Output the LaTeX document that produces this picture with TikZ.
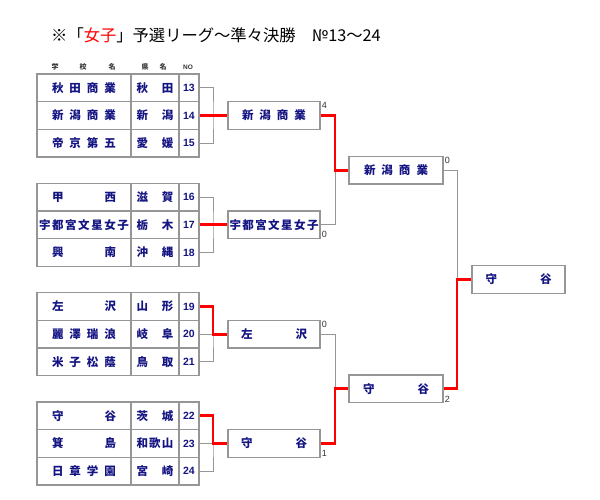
\documentclass[tikz,border=0pt]{standalone}
\usepackage{fontspec}
\setmainfont{Liberation Sans}
\newfontfamily\jp{Noto Sans CJK JP}
\definecolor{navy}{RGB}{20,20,130}
\definecolor{gridgray}{RGB}{150,150,150}
\definecolor{winred}{RGB}{255,0,0}
\newcommand\spr[1]{\makebox[64pt][s]{#1}}
\newcommand\spp[1]{\makebox[37pt][s]{#1}}
\tikzset{
  cellbase/.style={draw=gridgray, line width=1.2pt, minimum height=27.67pt, inner sep=0pt, text=navy},
  school/.style={cellbase, minimum width=94pt, font=\jp\bfseries\fontsize{11.5}{11.5}\selectfont},
  pref/.style={cellbase, minimum width=48pt, font=\jp\bfseries\fontsize{11.5}{11.5}\selectfont},
  num/.style={cellbase, minimum width=20pt, font=\bfseries\fontsize{10.5}{10.5}\selectfont},
  winbox/.style={cellbase, minimum width=92pt, minimum height=27.67pt, font=\jp\bfseries\fontsize{11.5}{11.5}\selectfont},
  head/.style={font=\jp\bfseries\fontsize{7}{7}\selectfont, text=black!80, inner sep=0pt},
  score/.style={font=\fontsize{9}{9}\selectfont, text=black!80, inner sep=1pt},
  gl/.style={draw=gridgray, line width=1pt},
  rl/.style={draw=winred, line width=2.8pt},
}
\begin{document}
\begin{tikzpicture}[x=1pt,y=-1pt]
\useasboundingbox (0,0) rectangle (600,500);
% title
\node[anchor=west, inner sep=0pt, font=\jp\fontsize{16.3}{16.3}\selectfont] (title) at (51,35) {※「\textcolor{winred}{女子}」予選リーグ～準々決勝　№13～24};
% headers
\node[head] (h1) at (55,67) {学};
\node[head] (h2) at (83,67) {校};
\node[head] (h3) at (112,67) {名};
\node[head] (h4) at (145,67) {県};
\node[head] (h5) at (163,67) {名};
\node[head, font=\bfseries\fontsize{6.5}{6.5}\selectfont] (h6) at (188,67) {NO};
% group 1
\node[school] (s11) at (84,87.8) {\spr{秋\hfill 田\hfill 商\hfill 業}};
\node[pref] (p11) at (155,87.8) {\spp{秋\hfill 田}};
\node[num] (n11) at (189,87.8) {13};
\node[school] (s12) at (84,115.5) {\spr{新\hfill 潟\hfill 商\hfill 業}};
\node[pref] (p12) at (155,115.5) {\spp{新\hfill 潟}};
\node[num] (n12) at (189,115.5) {14};
\node[school] (s13) at (84,143.2) {\spr{帝\hfill 京\hfill 第\hfill 五}};
\node[pref] (p13) at (155,143.2) {\spp{愛\hfill 媛}};
\node[num] (n13) at (189,143.2) {15};
% group 2
\node[school] (s21) at (84,197.2) {\spr{甲\hfill 西}};
\node[pref] (p21) at (155,197.2) {\spp{滋\hfill 賀}};
\node[num] (n21) at (189,197.2) {16};
\node[school] (s22) at (84,224.8) {\makebox[90pt][s]{宇\hfill 都\hfill 宮\hfill 文\hfill 星\hfill 女\hfill 子}};
\node[pref] (p22) at (155,224.8) {\spp{栃\hfill 木}};
\node[num] (n22) at (189,224.8) {17};
\node[school] (s23) at (84,252.5) {\spr{興\hfill 南}};
\node[pref] (p23) at (155,252.5) {\spp{沖\hfill 縄}};
\node[num] (n23) at (189,252.5) {18};
% group 3
\node[school] (s31) at (84,306.5) {\spr{左\hfill 沢}};
\node[pref] (p31) at (155,306.5) {\spp{山\hfill 形}};
\node[num] (n31) at (189,306.5) {19};
\node[school] (s32) at (84,334.2) {\spr{麗\hfill 澤\hfill 瑞\hfill 浪}};
\node[pref] (p32) at (155,334.2) {\spp{岐\hfill 阜}};
\node[num] (n32) at (189,334.2) {20};
\node[school] (s33) at (84,361.8) {\spr{米\hfill 子\hfill 松\hfill 蔭}};
\node[pref] (p33) at (155,361.8) {\spp{鳥\hfill 取}};
\node[num] (n33) at (189,361.8) {21};
% group 4
\node[school] (s41) at (84,415.8) {\spr{守\hfill 谷}};
\node[pref] (p41) at (155,415.8) {\spp{茨\hfill 城}};
\node[num] (n41) at (189,415.8) {22};
\node[school] (s42) at (84,443.5) {\spr{箕\hfill 島}};
\node[pref] (p42) at (155,443.5) {\spp{和\hfill 歌\hfill 山}};
\node[num] (n42) at (189,443.5) {23};
\node[school] (s43) at (84,471.2) {\spr{日\hfill 章\hfill 学\hfill 園}};
\node[pref] (p43) at (155,471.2) {\spp{宮\hfill 崎}};
\node[num] (n43) at (189,471.2) {24};
% round 1 winners
\node[winbox] (r1) at (274,115.5) {\spr{新\hfill 潟\hfill 商\hfill 業}};
\node[winbox] (r2) at (274,224.8) {\makebox[89pt][s]{宇\hfill 都\hfill 宮\hfill 文\hfill 星\hfill 女\hfill 子}};
\node[winbox] (r3) at (274,334.2) {\makebox[66pt][s]{左\hfill 沢}};
\node[winbox] (r4) at (274,443.5) {\makebox[66pt][s]{守\hfill 谷}};
% round 2 winners
\node[winbox, minimum width=94pt] (ra) at (396,170.2) {\spr{新\hfill 潟\hfill 商\hfill 業}};
\node[winbox, minimum width=94pt] (rb) at (396,388.8) {\makebox[66pt][s]{守\hfill 谷}};
% final
\node[winbox, minimum width=93pt] (rf) at (518.5,279.5) {\makebox[66pt][s]{守\hfill 谷}};
% junction coordinates
\coordinate (j1) at (213,115.5);
\coordinate (j2) at (213,224.8);
\coordinate (j3) at (213,334.2);
\coordinate (j4) at (213,443.5);
\coordinate (k1) at (335,170.2);
\coordinate (k2) at (335,388.8);
\coordinate (k3) at (457,279.5);
% grey connectors
\draw[gl] (n11.east) -| (j1) |- (n13.east);
\draw[gl] (n21.east) -| (j2) |- (n23.east);
\draw[gl] (n31.east) -| (j3) |- (n33.east);
\draw[gl] (n32.east) -- (j3);
\draw[gl] (n41.east) -| (j4) |- (n43.east);
\draw[gl] (n42.east) -- (j4);
\draw[gl] (r2.east) -| (k1);
\draw[gl] (r3.east) -| (k2);
\draw[gl] (ra.east) -| (k3);
% red winner paths
\draw[rl] (n12.east) -- (r1.west);
\draw[rl] (n22.east) -- (r2.west);
\draw[rl] (n31.east) -| (j3) -- (r3.west);
\draw[rl] (n41.east) -| (j4) -- (r4.west);
\draw[rl] (r1.east) -| (k1) -- (ra.west);
\draw[rl] (r4.east) -| (k2) -- (rb.west);
\draw[rl] (rb.east) -| (k3) -- (rf.west);
% scores
\node[score, anchor=north west] (sc1) at (r1.north east) {4};
\node[score, anchor=south west] (sc2) at (r2.south east) {0};
\node[score, anchor=north west] (sc3) at (r3.north east) {0};
\node[score, anchor=south west] (sc4) at (r4.south east) {1};
\node[score, anchor=north west] (sca) at (ra.north east) {0};
\node[score, anchor=south west] (scb) at (rb.south east) {2};
\end{tikzpicture}
\end{document}
